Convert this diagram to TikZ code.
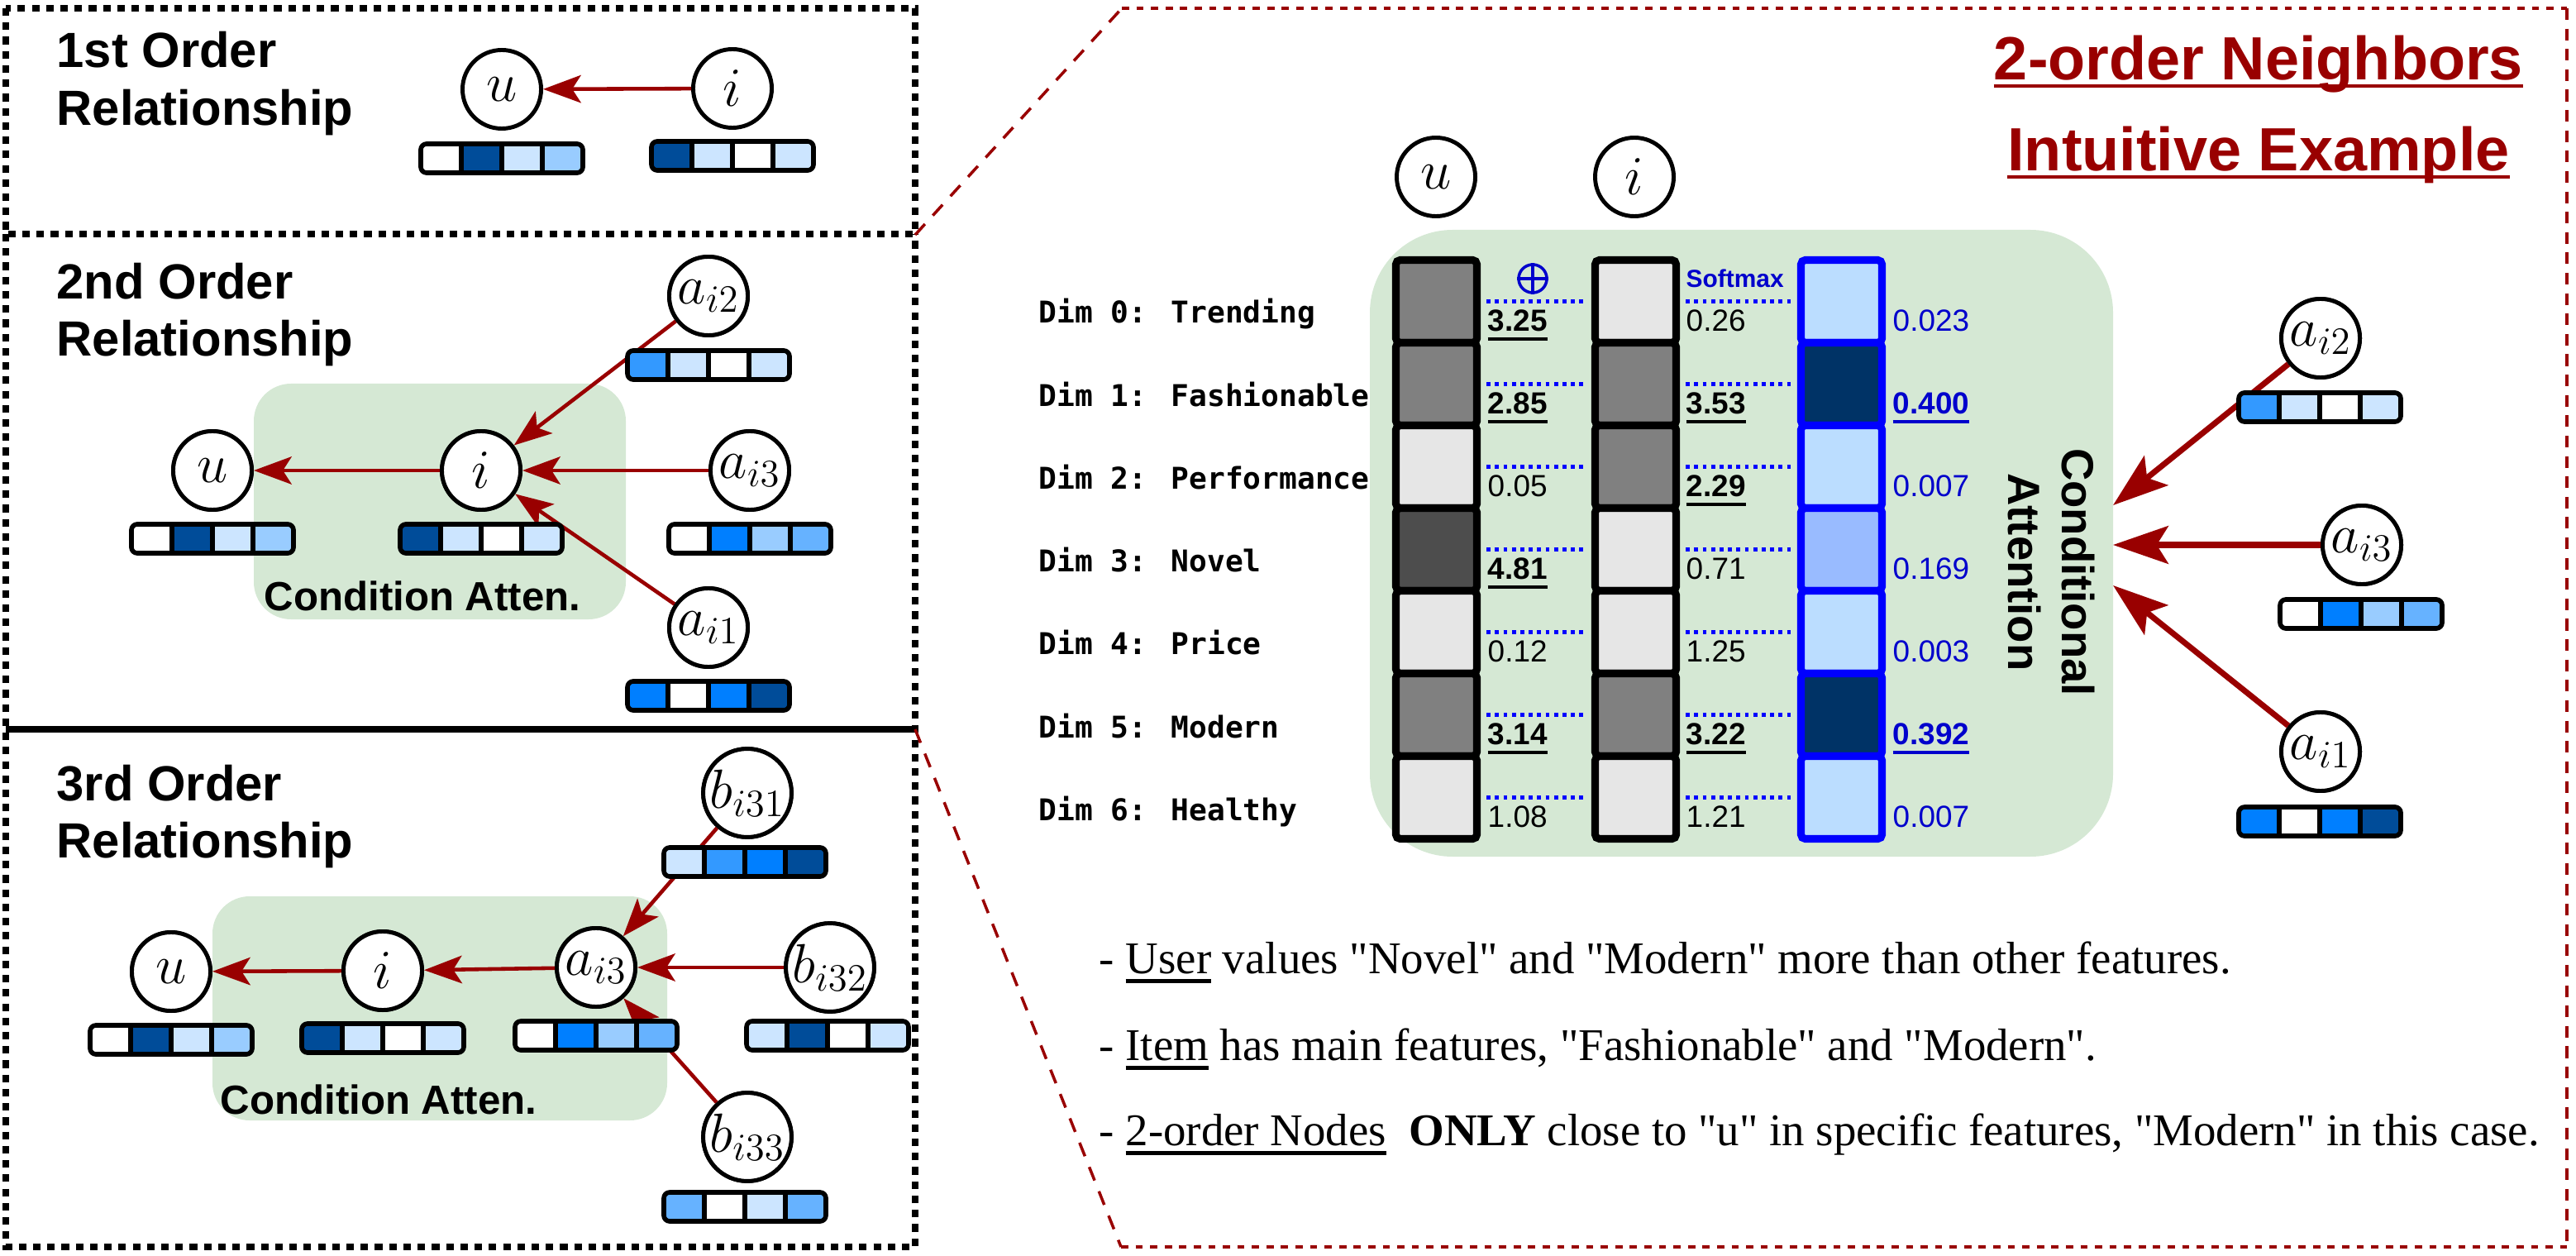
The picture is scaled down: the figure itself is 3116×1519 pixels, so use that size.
\RequirePackage{fix-cm}
\documentclass[tikz,border=0pt]{standalone}
\usepackage{fontspec}
\setsansfont{Liberation Sans}
\newfontfamily\serifT{Liberation Serif}
\newfontfamily\monoB{DejaVu Sans Mono}
\usetikzlibrary{arrows.meta}
\definecolor{dred}{HTML}{990000}
\definecolor{bA}{HTML}{004C99}
\definecolor{bB}{HTML}{007FFF}
\definecolor{bC}{HTML}{3399FF}
\definecolor{bD}{HTML}{66B2FF}
\definecolor{bE}{HTML}{99CCFF}
\definecolor{bF}{HTML}{CCE5FF}
\definecolor{gfill}{HTML}{D5E8D4}
\definecolor{gA}{HTML}{808080}
\definecolor{gB}{HTML}{E6E6E6}
\definecolor{gC}{HTML}{4D4D4D}
\definecolor{attL}{HTML}{BBDDFF}
\definecolor{attM}{HTML}{99BBFF}
\definecolor{attD}{HTML}{003366}
\definecolor{vblue}{HTML}{0000CC}
\definecolor{pblue}{HTML}{0000FF}
% underline at a fixed depth: text, rule bottom, rule height
\newcommand\ulx[3]{\leavevmode\setbox0\hbox{#1}\rlap{\rule[#2]{\wd0}{#3}}\box0\relax}
\newcommand\Bv[1]{\ulx{\bfseries #1}{-3.4pt}{1.3pt}}
% vector: x, y (top-left of path), four colours
\newcommand\vect[6]{%
  \foreach \c [count=\k from 0] in {#3,#4,#5,#6}{\fill[\c] (#1+49*\k,#2) rectangle ++(49,35);}
  \foreach \k in {1,2,3}{\draw[line width=1.5pt] (#1+49*\k,#2) -- ++(0,35);}
  \draw[line width=1.6pt, rounded corners=2pt] (#1,#2) rectangle ++(196,35);}
\begin{document}
\begin{tikzpicture}[x=0.01cm,y=-0.01cm,
  circ/.style={circle, draw=black, fill=white, line width=1.4pt, minimum size=0.95cm, inner sep=0pt, font=\fontsize{19}{22}\selectfont},
  larr/.style={draw=dred, line width=1.3pt, -{Stealth[length=13pt,width=9.5pt,inset=3pt]}},
  rarr/.style={draw=dred, line width=2pt, -{Stealth[length=19pt,width=13pt,inset=4pt]}},
  ttl/.style={anchor=base west, inner sep=0pt, font=\sffamily\bfseries\fontsize{17}{20}\selectfont},
  catt/.style={anchor=base, inner sep=0pt, font=\sffamily\bfseries\fontsize{14}{16}\selectfont},
  lpanel/.style={line width=2.3pt, dash pattern=on 2.6pt off 2.3pt},
  rpanel/.style={draw=dred, line width=1.2pt, dash pattern=on 2.5pt off 2.5pt},
  rside/.style={draw=dred, line width=1.1pt, dash pattern=on 4pt off 3pt},
  rdiag/.style={draw=dred, line width=1pt, dash pattern=on 5pt off 4pt},
  cellb/.style={draw=black, line width=2.6pt, rounded corners=1.5pt, minimum width=0.98cm, minimum height=1cm, inner sep=0pt},
  dotl/.style={draw=pblue, line width=1.2pt, dash pattern=on 1.4pt off 1.5pt, shorten <=2pt, shorten >=2pt},
  val/.style={anchor=base west, inner sep=0pt, font=\sffamily\fontsize{10.5}{12}\selectfont},
  dim/.style={anchor=base west, inner sep=0pt, font=\monoB\bfseries\fontsize{10.3}{12}\selectfont},
  btxt/.style={anchor=base west, inner sep=0pt, font=\serifT\fontsize{15.6}{19}\selectfont},
  htxt/.style={anchor=base, inner sep=0pt, text=dred, font=\sffamily\bfseries\fontsize{21}{25}\selectfont}]
\useasboundingbox (0,0) rectangle (3116,1519);

% ---------------- left panels ----------------
\draw[lpanel] (7,10) rectangle (1107,283);
\draw[lpanel] (7,283) -- (7,1508) -- (1107,1508) -- (1107,283);
\draw[line width=2.3pt] (7,882) -- (1107,882);

% panel 1
\node[ttl] (t1a) at (68,82) {1st Order};
\node[ttl] (t1b) at (68,152) {Relationship};
\node[circ] (u1) at (607,108) {$u$};
\node[circ] (i1) at (886,107) {$i$};
\draw[larr] (i1) -- (u1);
\vect{509}{174}{white}{bA}{bF}{bE}
\vect{788}{171}{bA}{bF}{white}{bF}

% panel 2
\node[ttl] (t2a) at (68,362) {2nd Order};
\node[ttl] (t2b) at (68,431) {Relationship};
\fill[gfill, rounded corners=0.45cm] (307,464) rectangle (757,749);
\node[catt] (ca2) at (511,738) {Condition Atten.};
\coordinate (pu2) at (257,569);
\coordinate (pi2) at (582,569);
\coordinate (pa22) at (857,358);
\coordinate (pa23) at (907,569);
\coordinate (pa21) at (857,759);
\node[circ] (u2) at (pu2) {$u$};
\node[circ] (i2) at (pi2) {$i$};
\node[circ] (a22) at (pa22) {$a_{i2}$};
\node[circ] (a23) at (pa23) {$a_{i3}$};
\node[circ] (a21) at (pa21) {$a_{i1}$};
\draw[larr] (i2) -- (u2);
\draw[larr] (a22) -- (i2);
\draw[larr] (a23) -- (i2);
\draw[larr] (a21) -- (i2);
\vect{159}{634}{white}{bA}{bF}{bE}
\vect{484}{634}{bA}{bF}{white}{bF}
\vect{759}{424}{bC}{bF}{white}{bF}
\vect{809}{634}{white}{bB}{bE}{bD}
\vect{759}{824}{bB}{white}{bB}{bA}
\node[circ] at (pu2) {$u$};
\node[circ] at (pi2) {$i$};
\node[circ] at (pa22) {$a_{i2}$};
\node[circ] at (pa23) {$a_{i3}$};
\node[circ] at (pa21) {$a_{i1}$};

% panel 3
\node[ttl] (t3a) at (68,968) {3rd Order};
\node[ttl] (t3b) at (68,1037) {Relationship};
\fill[gfill, rounded corners=0.45cm] (257,1084) rectangle (807,1355);
\node[catt] (ca3) at (458,1347) {Condition Atten.};
\node[circ] (u3) at (207,1175) {$u$};
\node[circ] (i3) at (463,1174) {$i$};
\node[circ] (a33) at (721,1170) {$a_{i3}$};
\node[circ] (b31) at (904,959) {$b_{i31}$};
\node[circ] (b32) at (1004,1170) {$b_{i32}$};
\node[circ] (b33) at (904,1375) {$b_{i33}$};
\draw[larr] (i3) -- (u3);
\draw[larr] (a33) -- (i3);
\draw[larr] (b31) -- (a33);
\draw[larr] (b32) -- (a33);
\draw[larr] (b33) -- (a33);
\vect{109}{1240}{white}{bA}{bF}{bE}
\vect{365}{1238}{bA}{bF}{white}{bF}
\vect{623}{1235}{white}{bB}{bE}{bD}
\vect{803}{1025}{bF}{bC}{bB}{bA}
\vect{903}{1235}{bF}{bA}{white}{bF}
\vect{803}{1442}{bD}{white}{bF}{bD}
\node[circ] at (u3) {$u$};
\node[circ] at (i3) {$i$};
\node[circ] at (a33) {$a_{i3}$};
\node[circ] at (b31) {$b_{i31}$};
\node[circ] at (b32) {$b_{i32}$};
\node[circ] at (b33) {$b_{i33}$};

% ---------------- right panel ----------------
\draw[rdiag] (1107,284) -- (1357,10);
\draw[rdiag] (1107,882) -- (1356,1508);
\draw[rpanel] (1357,10) -- (3105,10);
\draw[rpanel] (1356,1508) -- (3105,1508);
\draw[rside] (3105,10) -- (3105,1508);

\node[htxt] (h1) at (2732,97) {\ulx{2-order Neighbors}{-2.7pt}{1.2pt}};
\node[htxt] (h2) at (2732,207) {\ulx{Intuitive Example}{-2.7pt}{1.2pt}};

\fill[gfill, rounded corners=1cm] (1657,278) rectangle (2556,1036);

\node[circ] (ru) at (1737,214) {$u$};
\node[circ] (ri) at (1977,214) {$i$};

\foreach \t [count=\k from 0] in {Dim 0: Trending,Dim 1: Fashionable,Dim 2: Performance,Dim 3: Novel,Dim 4: Price,Dim 5: Modern,Dim 6: Healthy}
  \node[dim] (dl-\k) at (1256,391+100.2*\k) {\t};

\foreach \f [count=\k from 0] in {gA,gA,gB,gC,gB,gA,gB}
  \node[cellb, fill=\f] (ca-\k) at (1737.5,364.5+100*\k) {};
\foreach \f [count=\k from 0] in {gB,gA,gA,gB,gB,gA,gB}
  \node[cellb, fill=\f] (cb-\k) at (1978.5,364.5+100*\k) {};
\foreach \f [count=\k from 0] in {attL,attD,attL,attM,attL,attD,attL}
  \node[cellb, draw=pblue, fill=\f] (cc-\k) at (2227.5,364.5+100*\k) {};

\foreach \k in {0,...,6}{
  \draw[dotl] (ca-\k.east) -- (cb-\k.west);
  \draw[dotl] (cb-\k.east) -- (cc-\k.west);
}

\foreach \v [count=\k from 0] in {\Bv{3.25},\Bv{2.85},0.05,\Bv{4.81},0.12,\Bv{3.14},1.08}
  \node[val] (va-\k) at (1799,400.5+100*\k) {\v};
\foreach \v [count=\k from 0] in {0.26,\Bv{3.53},\Bv{2.29},0.71,1.25,\Bv{3.22},1.21}
  \node[val] (vb-\k) at (2039,400.5+100*\k) {\v};
\foreach \v [count=\k from 0] in {0.023,\Bv{0.400},0.007,0.169,0.003,\Bv{0.392},0.007}
  \node[val, text=vblue] (vc-\k) at (2289,400.5+100*\k) {\v};

\node[circle, draw=vblue, line width=1pt, minimum size=0.34cm, inner sep=0pt] (oplus) at (1854,337) {};
\draw[vblue, line width=1pt] (oplus.north) -- (oplus.south) (oplus.west) -- (oplus.east);
\node[anchor=base west, inner sep=0pt, text=vblue, font=\sffamily\bfseries\fontsize{8.5}{10}\selectfont] (smx) at (2039,348) {Softmax};

\node[rotate=-90, align=center, inner sep=0pt, font=\sffamily\bfseries\fontsize{15.5}{18.5}\selectfont] (cattn) at (2481,692) {Conditional\\Attention};

\coordinate (tg2) at (2556,611);
\coordinate (tg3) at (2556,659);
\coordinate (tg1) at (2556,708);
\node[circ] (ra2) at (2807,409) {$a_{i2}$};
\node[circ] (ra3) at (2857,659) {$a_{i3}$};
\node[circ] (ra1) at (2807,909) {$a_{i1}$};
\draw[rarr] (ra2) -- (tg2);
\draw[rarr] (ra3) -- (tg3);
\draw[rarr] (ra1) -- (tg1);
\vect{2708}{475}{bC}{bF}{white}{bF}
\vect{2758}{725}{white}{bB}{bE}{bD}
\vect{2708}{976}{bB}{white}{bB}{bA}
\node[circ] at (ra2) {$a_{i2}$};
\node[circ] at (ra3) {$a_{i3}$};
\node[circ] at (ra1) {$a_{i1}$};

\node[btxt] (tx1) at (1329,1177) {- \ulx{User}{-3.4pt}{1.4pt} values "Novel" and "Modern" more than other features.};
\node[btxt] (tx2) at (1329,1282) {- \ulx{Item}{-3.4pt}{1.4pt} has main features, "Fashionable" and "Modern".};
\node[btxt] (tx3) at (1329,1385) {- \ulx{2-order Nodes}{-3.4pt}{1.4pt}\ \ \textbf{ONLY} close to "u" in specific features, "Modern" in this case.};
\end{tikzpicture}
\end{document}
